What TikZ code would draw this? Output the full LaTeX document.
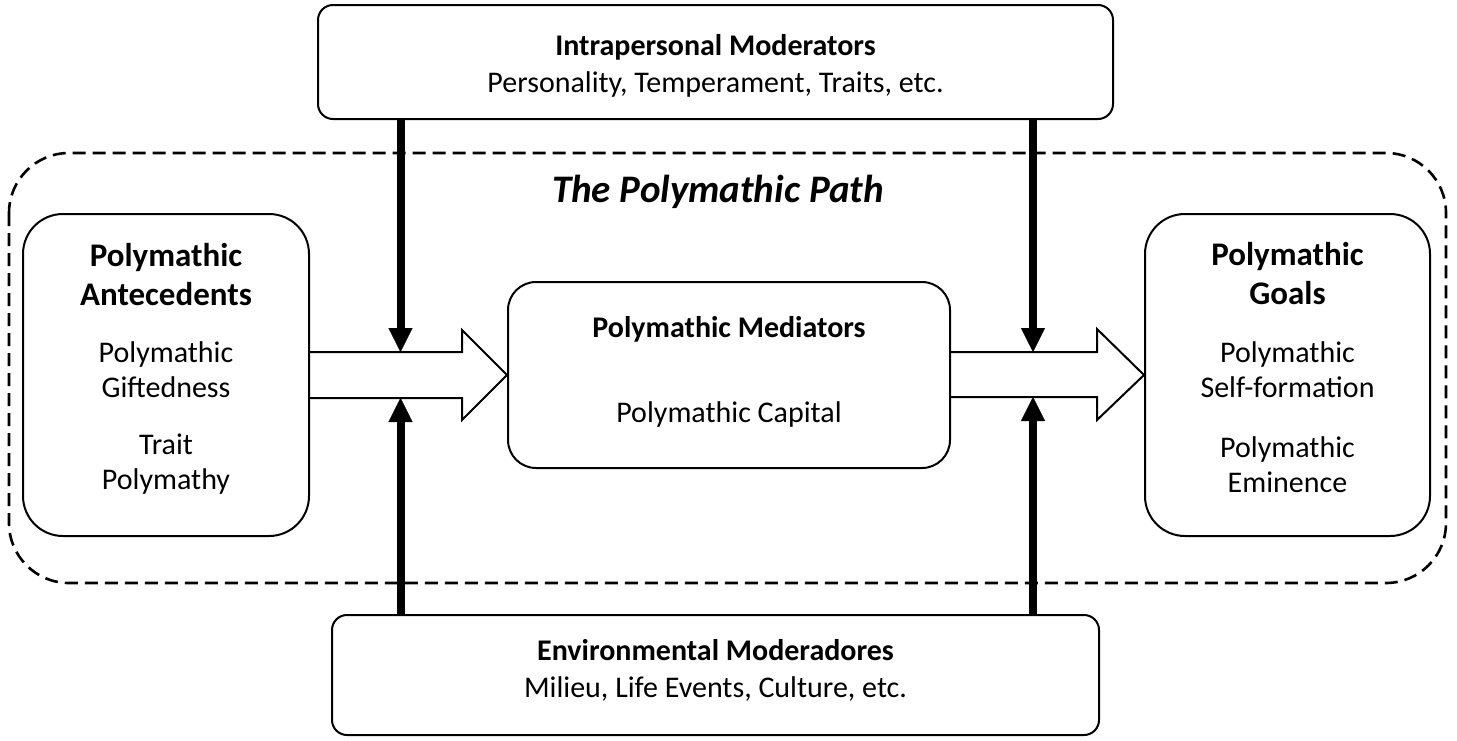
\documentclass[tikz,border=0pt]{standalone}
\usepackage{fontspec}
\setmainfont{Carlito}
\usepackage{tikz}
\usetikzlibrary{positioning,arrows.meta}
\tikzstyle{box} = [draw=black, line width=1pt, align=center, inner sep=0pt, text depth=3pt, font=\fontsize{15}{18.5}\selectfont]
\tikzstyle{modarrow} = [line width=4pt, -{Triangle[length=12pt,width=12pt,line width=0.1pt]}]
\tikzstyle{blockarrow} = [line width=1pt, line join=miter]
\newcommand{\headfont}{\fontsize{16.5}{19.5}\selectfont\bfseries}

\begin{document}
\begin{tikzpicture}[x=0.5pt, y=-0.5pt]
	\useasboundingbox (0,0) rectangle (1457,740);
	\draw[line width=1.3pt, dash pattern=on 6.5pt off 3.5pt, rounded corners=30pt] (9,153) rectangle (1446,583);
	\node[font=\fontsize{19.5}{22}\selectfont\bfseries\itshape, anchor=base] (pathtitle) at (718,202) {The Polymathic Path};
	\node[box, rounded corners=14pt, minimum width=221pt, minimum height=93pt, text height=50pt, font=\fontsize{15}{16.5}\selectfont] (med) at (729,375) {\textbf{Polymathic Mediators}\\[26pt]Polymathic Capital};
	\node[box, rounded corners=20pt, minimum width=143pt, minimum height=161pt, text height=117pt, font=\fontsize{15}{17.5}\selectfont, left=98.5pt of med] (ante) {{\headfont Polymathic}\\[2pt]{\headfont Antecedents}\\[11pt]Polymathic\\Giftedness\\[11pt]Trait\\Polymathy};
	\node[box, rounded corners=20pt, minimum width=142.5pt, minimum height=161pt, text height=120.5pt, font=\fontsize{15}{17.5}\selectfont, right=96.5pt of med] (goals) {{\headfont Polymathic}\\[2pt]{\headfont Goals}\\[11.5pt]Polymathic\\Self-formation\\[12.5pt]Polymathic\\Eminence};
	\node[box, rounded corners=7.5pt, minimum width=397.5pt, minimum height=57pt, text height=33pt, above=80.5pt of med, xshift=-6.75pt] (intra) {\textbf{Intrapersonal Moderators}\\Personality, Temperament, Traits, etc.};
	\node[box, rounded corners=7.5pt, minimum width=383.5pt, minimum height=60pt, text height=25pt, below=72.5pt of med, xshift=-6.75pt] (env) {\textbf{Environmental Moderadores}\\Milieu, Life Events, Culture, etc.};
	% block arrows into and out of the mediators
	\draw[blockarrow] (ante.east |- 0,352) -- (462,352) -- (462,330) -- (med.west) -- (462,420) -- (462,398) -- (ante.east |- 0,398);
	\draw[blockarrow] (med.east |- 0,352) -- (1097,352) -- (1097,329) -- (goals.west) -- (1097,420) -- (1097,397) -- (med.east |- 0,397);
	% moderator arrows
	\coordinate (ltop) at (400.5,352);
	\coordinate (lbot) at (400.5,398);
	\coordinate (rtop) at (1033,352);
	\coordinate (rbot) at (1033,397);
	\draw[modarrow] (intra.south -| ltop) -- (ltop);
	\draw[modarrow] (intra.south -| rtop) -- (rtop);
	\draw[modarrow] (env.north -| lbot) -- (lbot);
	\draw[modarrow] (env.north -| rbot) -- (rbot);
\end{tikzpicture}
\end{document}
